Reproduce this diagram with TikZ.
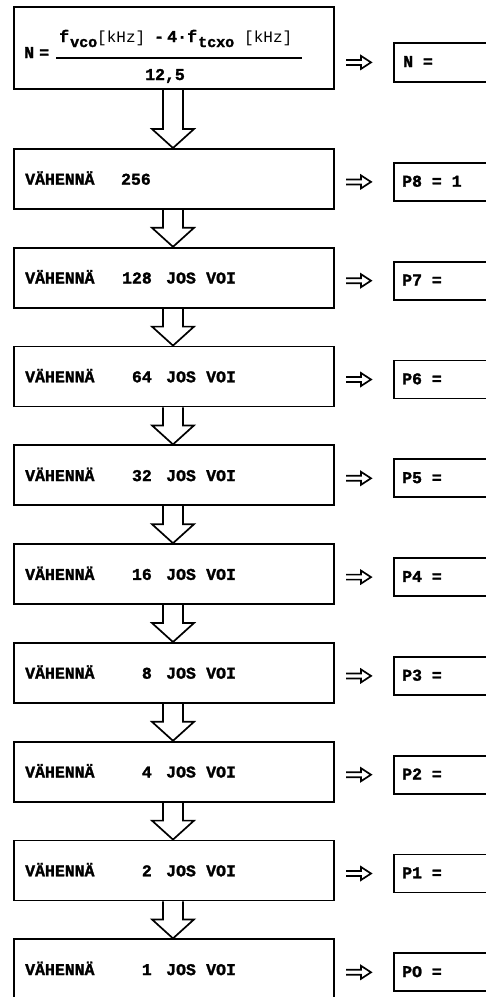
\documentclass[tikz,border=0pt]{standalone}
\usepackage{fontspec}
\newfontfamily\tw{Liberation Mono}[BoldFeatures={FakeBold=1.6}]
\usetikzlibrary{calc}

\tikzset{
  frame/.style={draw, line width=1.8pt, inner sep=0pt, anchor=north west},
  lbl/.style={font=\tw\bfseries\fontsize{16.5}{18}\selectfont, inner sep=0pt},
  sub/.style={font=\tw\bfseries\fontsize{15}{17}\selectfont, inner sep=0pt},
  unit/.style={font=\tw\fontsize{16}{18}\selectfont, inner sep=0pt},
  hollow/.style={draw, line width=1.7pt, line join=miter},
}

\begin{document}
\begin{tikzpicture}[x=1pt,y=-1pt]
\useasboundingbox (0,0) rectangle (486,997);
\clip (0,0) rectangle (486,997);

% formula box
\node[frame, minimum width=320pt, minimum height=82pt] (top) at (13,6) {};
\node[lbl, anchor=base west] (fN) at (24,58) {N};
\node[lbl, anchor=base west] (feq) at (39,58) {=};
\node[lbl, anchor=base west] (f1) at (59,42) {f};
\node[sub, anchor=base west] (s1) at (70,47) {vco};
\node[unit, anchor=base west] (u1) at (97,42) {[kHz]};
\node[lbl, anchor=base west] (mi) at (154,42) {-};
\node[lbl, anchor=base west] (k4) at (167,42) {4·};
\node[lbl, anchor=base west] (f2) at (187,42) {f};
\node[sub, anchor=base west] (s2) at (198,47) {tcxo};
\node[unit, anchor=base west] (u2) at (244,42) {[kHz]};
\coordinate (fl) at (56,58);
\coordinate (fr) at (302,58);
\draw[line width=1.8pt] (fl) -- (fr);
\node[lbl, anchor=base] (den) at (165,80) {12,5};

% result box for N
\node[frame, minimum width=110pt, minimum height=39pt] (rN) at (393,42) {};
\node[lbl, anchor=base west] (rNt) at (403,67) {N =};

% first subtraction step
\node[frame, minimum width=320pt, minimum height=60pt] (b1) at (13,148) {};
\node[lbl, anchor=base west] (v1) at (25,184.7) {VÄHENNÄ};
\node[lbl, anchor=base east] (n1) at (151,184.7) {256};
\node[frame, minimum width=110pt, minimum height=38pt] (r1) at (393,162) {};
\node[lbl, anchor=base west] (p1) at (402,186.7) {P8 = 1};

% conditional subtraction steps
\foreach \i/\num/\pn in {2/128/7,3/64/6,4/32/5,5/16/4,6/8/3,7/4/2,8/2/1,9/1/O}{
  \pgfmathsetmacro\ty{148+98.8*(\i-1)}
  \node[frame, minimum width=320pt, minimum height=60pt] (b\i) at (13,\ty) {};
  \node[lbl, anchor=base west] (v\i) at (25,\ty+36.7) {VÄHENNÄ};
  \node[lbl, anchor=base east] (n\i) at (152,\ty+36.7) {\num};
  \node[lbl, anchor=base west] (j\i) at (166,\ty+36.7) {JOS};
  \node[lbl, anchor=base west] (o\i) at (206,\ty+36.7) {VOI};
  \node[frame, minimum width=110pt, minimum height=38pt] (r\i) at (393,\ty+14) {};
  \node[lbl, anchor=base west] (p\i) at (402,\ty+38.7) {P\pn\ =};
}

% hollow down arrows between steps
\foreach \a/\b in {top/b1,b1/b2,b2/b3,b3/b4,b4/b5,b5/b6,b6/b7,b7/b8,b8/b9}{
  \draw[hollow] ($(\a.south west)+(150,0)$) -- ($(\b.north west)+(150,-19)$)
    -- ($(\b.north west)+(139,-19)$) -- ($(\b.north west)+(160,0)$)
    -- ($(\b.north west)+(181,-19)$) -- ($(\b.north west)+(170,-19)$)
    -- ($(\a.south west)+(170,0)$);
}

% hollow arrows towards the result boxes
\foreach \r in {rN,r1,r2,r3,r4,r5,r6,r7,r8,r9}{
  \draw[hollow] ($(\r.west)+(-47,-2.5)$) -- ($(\r.west)+(-32,-2.5)$)
    -- ($(\r.west)+(-32,-6.5)$) -- ($(\r.west)+(-22,0)$)
    -- ($(\r.west)+(-32,6.5)$) -- ($(\r.west)+(-32,2.5)$)
    -- ($(\r.west)+(-47,2.5)$);
}
\end{tikzpicture}
\end{document}
